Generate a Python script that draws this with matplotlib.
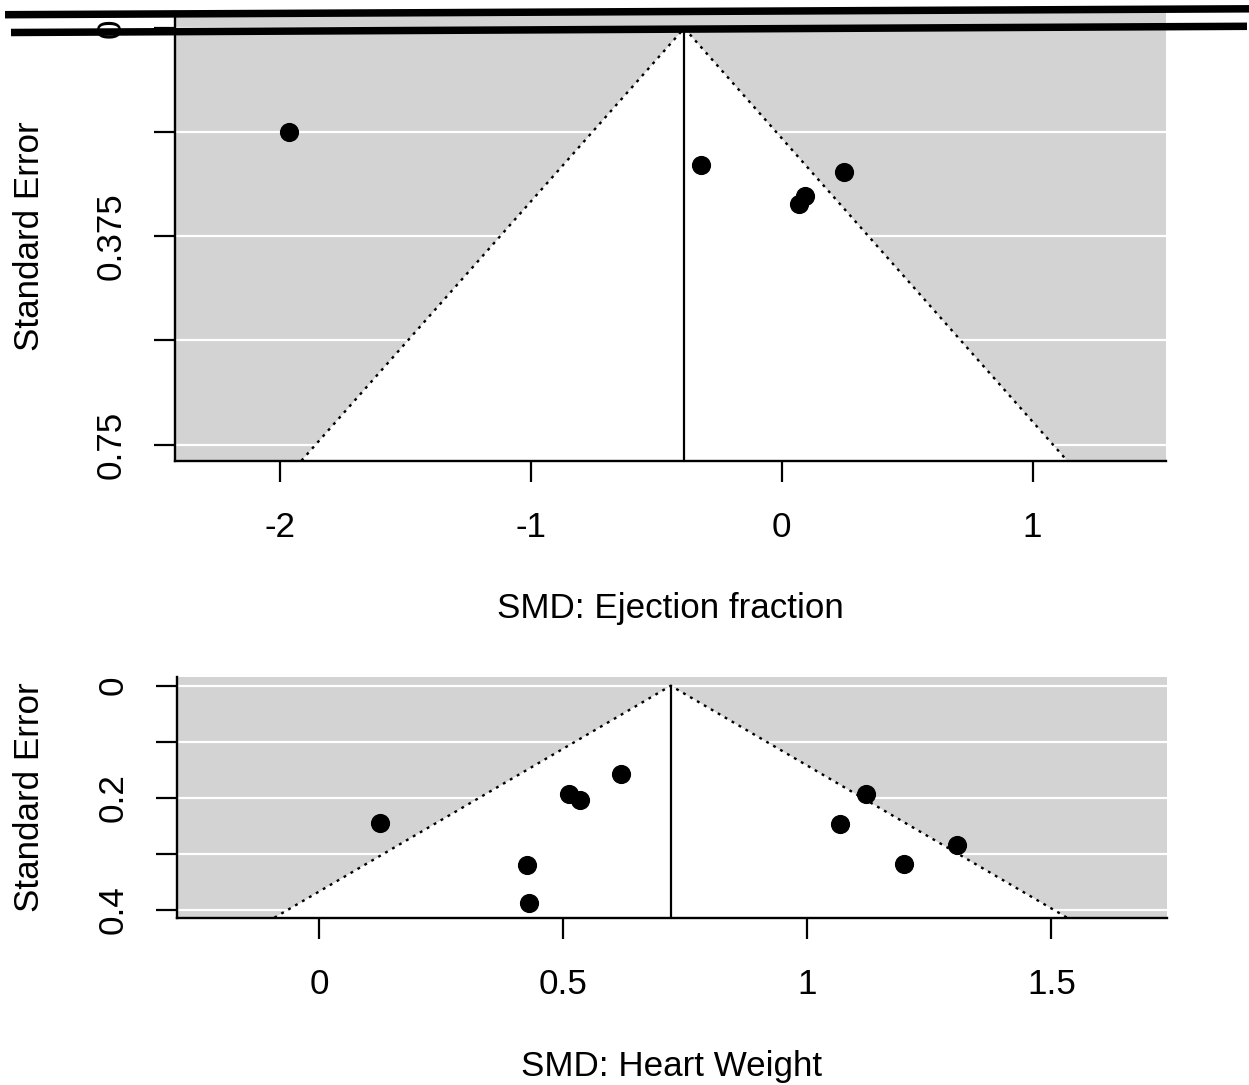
import matplotlib
matplotlib.use("Agg")
import matplotlib.pyplot as plt
import matplotlib.transforms as mtransforms
from matplotlib.lines import Line2D
from matplotlib.patches import Polygon

OUTPUT_FILE = "out.png"
FIG_W, FIG_H = 1249, 1085

BG_GRAY = "#d3d3d3"
FONT_SIZE = 25.2
Z = 1.96

# ejection fraction panel
EF_SMD = [-1.967, -0.322, 0.247, 0.094, 0.069]
EF_SE = [0.1875, 0.2465, 0.259, 0.302, 0.317]
EF_EST = -0.389
EF_XLIM = (-2.42, 1.532)
EF_YLIM = (0.779, -0.03)
EF_XTICKS = [-2, -1, 0, 1]
EF_XTICKLABELS = ["-2", "-1", "0", "1"]
EF_YTICKS = [0, 0.1875, 0.375, 0.5625, 0.75]
EF_YTICKLABELS = ["0", "", "0.375", "", "0.75"]
EF_XLABEL = "SMD: Ejection fraction"

# heart weight panel
HW_SMD = [0.124, 0.511, 0.533, 0.618, 0.426, 0.429, 1.120, 1.067, 1.306, 1.199]
HW_SE = [0.245, 0.193, 0.205, 0.157, 0.320, 0.388, 0.194, 0.247, 0.284, 0.318]
HW_EST = 0.720
HW_XLIM = (-0.293, 1.737)
HW_YLIM = (0.4145, -0.0156)
HW_XTICKS = [0, 0.5, 1, 1.5]
HW_XTICKLABELS = ["0", "0.5", "1", "1.5"]
HW_YTICKS = [0, 0.1, 0.2, 0.3, 0.4]
HW_YTICKLABELS = ["0", "", "0.2", "", "0.4"]
HW_XLABEL = "SMD: Heart Weight"

YLABEL = "Standard Error"

plt.rcParams["font.family"] = ["Liberation Sans", "DejaVu Sans"]
plt.rcParams["font.size"] = FONT_SIZE


def px_box(left, top, right, bottom):
    return [left / FIG_W, 1 - bottom / FIG_H, (right - left) / FIG_W, (bottom - top) / FIG_H]


def funnel_panel(fig, box, smd, se, est, xlim, ylim, xticks, xticklabels,
                 yticks, yticklabels, xlabel, xlabel_base):
    ax = fig.add_axes(box)
    ax.set_facecolor(BG_GRAY)
    ax.set_xlim(*xlim)
    ax.set_ylim(*ylim)
    se_max = ylim[0]

    for t in yticks:
        ax.axhline(t, color="white", lw=1.6, zorder=1)

    tri = [(est - Z * se_max, se_max), (est, 0), (est + Z * se_max, se_max)]
    ax.add_patch(Polygon(tri, closed=True, facecolor="white", edgecolor="none", zorder=2))
    ax.plot([tri[0][0], est, tri[2][0]], [se_max, 0, se_max], color="black",
            lw=1.7, ls=(0, (1.2, 2.2)), zorder=3)
    ax.plot([est, est], [0, se_max], color="black", lw=1.6, zorder=3)

    ax.plot(smd, se, "o", color="black", ms=12.8, zorder=4, clip_on=False)

    for side in ["top", "right"]:
        ax.spines[side].set_visible(False)
    for side in ["left", "bottom"]:
        ax.spines[side].set_linewidth(1.7)
        ax.spines[side].set_zorder(5)

    ax.set_xticks(xticks)
    ax.set_xticklabels(xticklabels)
    ax.set_yticks(yticks)
    ax.set_yticklabels(yticklabels, rotation=90, va="center")
    ax.tick_params(axis="both", direction="out", length=15, width=1.6, labelsize=FONT_SIZE)
    ax.tick_params(axis="x", pad=21)
    ax.tick_params(axis="y", pad=19)

    trans = mtransforms.blended_transform_factory(ax.transAxes, fig.transFigure)
    ax.text(0.5, 1 - xlabel_base / FIG_H, xlabel, transform=trans,
            ha="center", va="baseline", fontsize=FONT_SIZE)
    trans = mtransforms.blended_transform_factory(fig.transFigure, ax.transAxes)
    ax.text(30 / FIG_W, 0.5, YLABEL, transform=trans, rotation=90,
            ha="center", va="center", fontsize=FONT_SIZE)
    return ax


fig = plt.figure(figsize=(FIG_W / 100, FIG_H / 100), dpi=100)

funnel_panel(fig, px_box(175, 11.5, 1166, 460.7), EF_SMD, EF_SE, EF_EST, EF_XLIM, EF_YLIM,
             EF_XTICKS, EF_XTICKLABELS, EF_YTICKS, EF_YTICKLABELS, EF_XLABEL, 618)
funnel_panel(fig, px_box(176.5, 677, 1167, 917.7), HW_SMD, HW_SE, HW_EST, HW_XLIM, HW_YLIM,
             HW_XTICKS, HW_XTICKLABELS, HW_YTICKS, HW_YTICKLABELS, HW_XLABEL, 1076)

# the two thick strokes over the top of the picture
for (x0, y0), (x1, y1) in [((5, 14.7), (1249, 8.8)), ((11, 32.5), (1247, 26.3))]:
    fig.add_artist(Line2D([x0 / FIG_W, x1 / FIG_W], [1 - y0 / FIG_H, 1 - y1 / FIG_H],
                          transform=fig.transFigure, color="black", lw=5.4,
                          solid_capstyle="butt", zorder=10))

fig.savefig(OUTPUT_FILE, dpi=100)
